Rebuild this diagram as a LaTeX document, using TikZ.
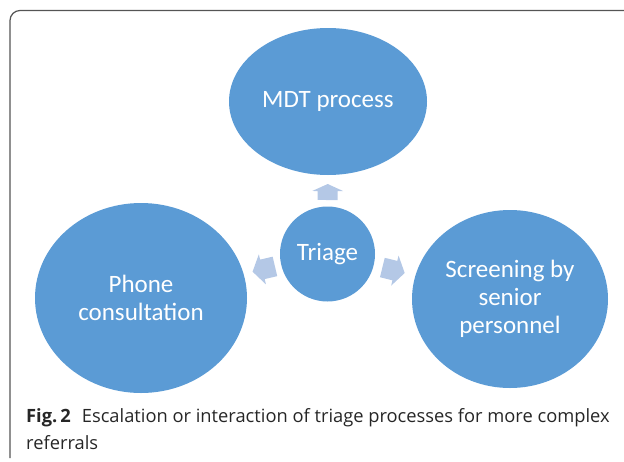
\documentclass[tikz,border=0pt]{standalone}
\usepackage{fontspec}
\setmainfont{Carlito}
\newfontfamily\capfont{Open Sans}
\usetikzlibrary{calc,shapes.geometric}
\definecolor{ellblue}{HTML}{5B9BD5}
\definecolor{arrblue}{HTML}{B4C8E6}
\definecolor{framegray}{HTML}{555555}
\tikzset{
  blob/.style={ellipse, fill=ellblue, text=white, align=center, inner sep=0pt,
    font=\fontsize{25}{28}\selectfont},
  arrowfill/.style={fill=arrblue},
  captext/.style={anchor=base west, inner sep=0pt, text=black!85,
    font=\capfont\fontsize{18.3}{27}\selectfont}
}
% block arrow from #1 (tail) to #2 (tip)
\newcommand{\blockarr}[2]{%
  \path (#1) coordinate (ta) (#2) coordinate (tb) ($(tb)!0.44!(ta)$) coordinate (hb);
  \fill[arrowfill] ($(ta)!10pt!90:(tb)$) -- ($(hb)!10pt!90:(tb)$) -- ($(hb)!15.5pt!90:(tb)$)
    -- (tb) -- ($(hb)!15.5pt!-90:(tb)$) -- ($(hb)!10pt!-90:(tb)$) -- ($(ta)!10pt!-90:(tb)$) -- cycle;
}
\begin{document}
\begin{tikzpicture}[x=1pt,y=-1pt]
\useasboundingbox (0,0) rectangle (624,461);
\clip (0,0) rectangle (624,461);
\draw[framegray, line width=1.2pt, rounded corners=10pt] (640,10.5) -- (10,10.5) -- (10,458);

\node[blob, minimum width=198pt, minimum height=147pt] (mdt) at (328,101.5) {MDT process};
\node[blob, circle, minimum size=95pt] (tri) at (327.5,254) {Triage};
\node[blob, minimum width=212pt, minimum height=190pt] (ph) at (141,298) {Phone\\consultation};
\node[blob, minimum width=196pt, minimum height=178pt] (scr) at (510,299) {Screening by\\senior\\personnel};

\blockarr{$(tri.center)!54pt!(mdt.center)$}{$(tri.center)!70pt!(mdt.center)$}
\blockarr{$(tri.center)!54pt!(ph.center)$}{$(tri.center)!77pt!(ph.center)$}
\blockarr{$(tri.center)!56.5pt!(scr.center)$}{$(tri.center)!79.5pt!(scr.center)$}

\node[captext] (cap1) at (26,422) {\textbf{Fig.\,2}\hspace{0.6em}Escalation or interaction of triage processes for more complex};
\node[captext] (cap2) at (26,449) {referrals};
\end{tikzpicture}
\end{document}
